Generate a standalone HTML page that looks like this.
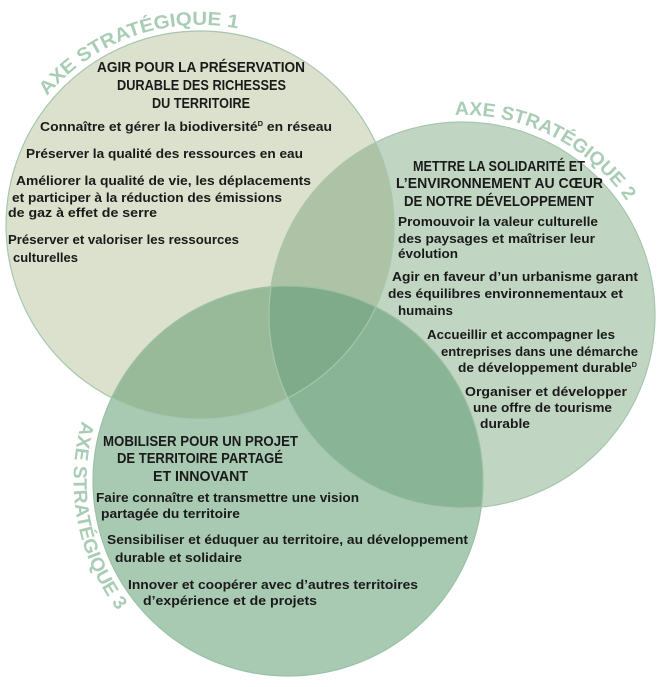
<!DOCTYPE html>
<html><head><meta charset="utf-8"><style>
html,body{margin:0;padding:0;background:#fff;}
svg{display:block;}
.h{font-family:"Liberation Sans",sans-serif;font-size:15px;fill:#1a1a1a;font-weight:bold;}
.b{font-family:"Liberation Sans",sans-serif;font-size:13px;fill:#1a1a1a;font-weight:bold;}
.ax{font-family:"Liberation Sans",sans-serif;font-size:19px;fill:#a9ccb4;font-weight:bold;}
</style></head><body>
<svg width="667" height="687" viewBox="0 0 667 687" xmlns="http://www.w3.org/2000/svg">
<defs>
<clipPath id="c1"><circle cx="200" cy="225" r="194"/></clipPath>
<clipPath id="c2"><circle cx="462" cy="315" r="193"/></clipPath>
<clipPath id="c3"><circle cx="288" cy="481" r="195"/></clipPath>
<path id="p1" d="M 47 96 A 200 200 0 0 1 249 31"/>
<path id="p2" d="M 455 115 A 200 200 0 0 1 630 206"/>
<path id="p3" d="M 82 421 A 214 214 0 0 0 122 616"/>
</defs>
<circle cx="200" cy="225" r="194" fill="#dbe1cc"/>
<circle cx="462" cy="315" r="193" fill="#c1d6c2"/>
<circle cx="288" cy="481" r="195" fill="#a8c9b2"/>
<g clip-path="url(#c1)"><circle cx="462" cy="315" r="193" fill="#aec3a6"/></g>
<g clip-path="url(#c1)"><circle cx="288" cy="481" r="195" fill="#98ba99"/></g>
<g clip-path="url(#c2)"><circle cx="288" cy="481" r="195" fill="#89b496"/></g>
<g clip-path="url(#c1)"><g clip-path="url(#c2)"><circle cx="288" cy="481" r="195" fill="#7fab8b"/></g></g>
<circle cx="200" cy="225" r="194" fill="none" stroke="#a6c6ae" stroke-width="1.2"/>
<circle cx="462" cy="315" r="193" fill="none" stroke="#a6c6ae" stroke-width="1.2"/>
<circle cx="288" cy="481" r="195" fill="none" stroke="#9cc0a6" stroke-width="1.2"/>

<text class="ax"><textPath href="#p1" textLength="212" lengthAdjust="spacingAndGlyphs">AXE STRATÉGIQUE 1</textPath></text>
<text class="ax"><textPath href="#p2" textLength="200" lengthAdjust="spacingAndGlyphs">AXE STRATÉGIQUE 2</textPath></text>
<text class="ax"><textPath href="#p3" textLength="200" lengthAdjust="spacingAndGlyphs">AXE STRATÉGIQUE 3</textPath></text>

<text class="h" x="97" y="72" textLength="208" lengthAdjust="spacingAndGlyphs">AGIR POUR LA PRÉSERVATION</text>
<text class="h" x="117" y="90" textLength="169" lengthAdjust="spacingAndGlyphs">DURABLE DES RICHESSES</text>
<text class="h" x="152" y="108" textLength="98" lengthAdjust="spacingAndGlyphs">DU TERRITOIRE</text>
<text class="b" x="40" y="131" textLength="292" lengthAdjust="spacingAndGlyphs">Connaître et gérer la biodiversité<tspan font-size="7" dy="-5">D</tspan><tspan dy="5"> en réseau</tspan></text>
<text class="b" x="26" y="158" textLength="277" lengthAdjust="spacingAndGlyphs">Préserver la qualité des ressources en eau</text>
<text class="b" x="16" y="185" textLength="295" lengthAdjust="spacingAndGlyphs">Améliorer la qualité de vie, les déplacements</text>
<text class="b" x="12" y="202" textLength="270" lengthAdjust="spacingAndGlyphs">et participer à la réduction des émissions</text>
<text class="b" x="8" y="217" textLength="149" lengthAdjust="spacingAndGlyphs">de gaz à effet de serre</text>
<text class="b" x="8" y="244" textLength="231" lengthAdjust="spacingAndGlyphs">Préserver et valoriser les ressources</text>
<text class="b" x="13" y="262" textLength="65" lengthAdjust="spacingAndGlyphs">culturelles</text>

<text class="h" x="413" y="171" textLength="172" lengthAdjust="spacingAndGlyphs">METTRE LA SOLIDARITÉ ET</text>
<text class="h" x="396" y="188" textLength="207" lengthAdjust="spacingAndGlyphs">L’ENVIRONNEMENT AU CŒUR</text>
<text class="h" x="404" y="206" textLength="190" lengthAdjust="spacingAndGlyphs">DE NOTRE DÉVELOPPEMENT</text>
<text class="b" x="398" y="226" textLength="200" lengthAdjust="spacingAndGlyphs">Promouvoir la valeur culturelle</text>
<text class="b" x="398" y="243" textLength="197" lengthAdjust="spacingAndGlyphs">des paysages et maîtriser leur</text>
<text class="b" x="398" y="258" textLength="60" lengthAdjust="spacingAndGlyphs">évolution</text>
<text class="b" x="392" y="281" textLength="246" lengthAdjust="spacingAndGlyphs">Agir en faveur d’un urbanisme garant</text>
<text class="b" x="388" y="298" textLength="235" lengthAdjust="spacingAndGlyphs">des équilibres environnementaux et</text>
<text class="b" x="398" y="315" textLength="55" lengthAdjust="spacingAndGlyphs">humains</text>
<text class="b" x="427" y="339" textLength="188" lengthAdjust="spacingAndGlyphs">Accueillir et accompagner les</text>
<text class="b" x="441" y="356" textLength="197" lengthAdjust="spacingAndGlyphs">entreprises dans une démarche</text>
<text class="b" x="458" y="372" textLength="179" lengthAdjust="spacingAndGlyphs">de développement durable<tspan font-size="7" dy="-5">D</tspan></text>
<text class="b" x="465" y="396" textLength="162" lengthAdjust="spacingAndGlyphs">Organiser et développer</text>
<text class="b" x="473" y="412" textLength="139" lengthAdjust="spacingAndGlyphs">une offre de tourisme</text>
<text class="b" x="480" y="428" textLength="50" lengthAdjust="spacingAndGlyphs">durable</text>

<text class="h" x="103" y="446" textLength="195" lengthAdjust="spacingAndGlyphs">MOBILISER POUR UN PROJET</text>
<text class="h" x="117" y="463" textLength="166" lengthAdjust="spacingAndGlyphs">DE TERRITOIRE PARTAGÉ</text>
<text class="h" x="153" y="481" textLength="95" lengthAdjust="spacingAndGlyphs">ET INNOVANT</text>
<text class="b" x="96" y="502" textLength="263" lengthAdjust="spacingAndGlyphs">Faire connaître et transmettre une vision</text>
<text class="b" x="101" y="518" textLength="139" lengthAdjust="spacingAndGlyphs">partagée du territoire</text>
<text class="b" x="107" y="544" textLength="361" lengthAdjust="spacingAndGlyphs">Sensibiliser et éduquer au territoire, au développement</text>
<text class="b" x="115" y="562" textLength="127" lengthAdjust="spacingAndGlyphs">durable et solidaire</text>
<text class="b" x="128" y="589" textLength="290" lengthAdjust="spacingAndGlyphs">Innover et coopérer avec d’autres territoires</text>
<text class="b" x="143" y="605" textLength="174" lengthAdjust="spacingAndGlyphs">d’expérience et de projets</text>
</svg>
</body></html>
